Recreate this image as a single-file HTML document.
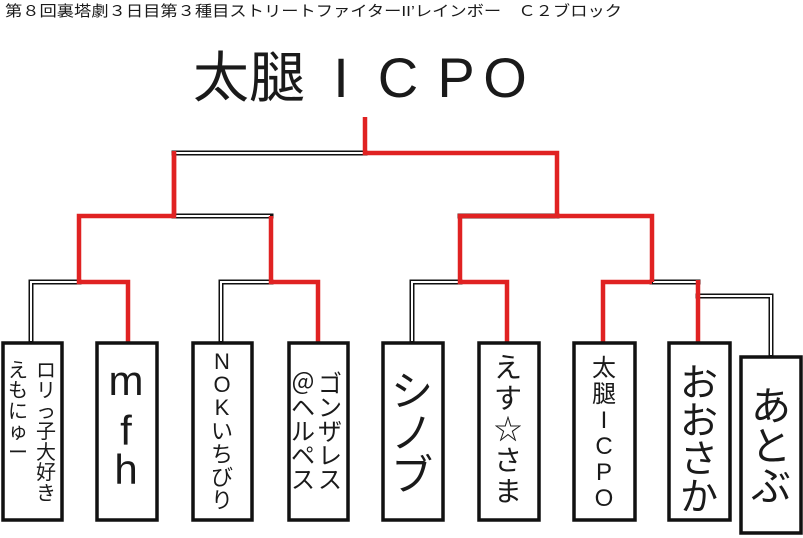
<!DOCTYPE html>
<html><head><meta charset="utf-8"><style>
html,body{margin:0;padding:0;background:#fff;}
svg{display:block}
text{font-family:"Liberation Sans","Noto Sans CJK JP",sans-serif;fill:#1a1a1a}
</style></head><body>
<svg width="803" height="538" viewBox="0 0 803 538" xmlns="http://www.w3.org/2000/svg">
<text x="5" y="16" font-size="15" textLength="617" lengthAdjust="spacingAndGlyphs">第８回裏塔劇３日目第３種目ストリートファイターII’レインボー　Ｃ２ブロック</text>
<text x="193" y="97" font-size="55" textLength="112" lengthAdjust="spacingAndGlyphs">太腿</text>
<g font-size="56" text-anchor="middle">
<text x="341" y="97">I</text><text x="398" y="97">C</text><text x="456" y="97">P</text><text x="505" y="97">O</text>
</g>
<g fill="none" stroke-linecap="square">
<g stroke="#111" stroke-width="5">
<path d="M174 153H365"/>
<path d="M174 216H271"/>
<path d="M460 216H557"/>
<path d="M31 282H79M31 282V342"/>
<path d="M221 282H271M221 282V342"/>
<path d="M412 282H460M412 282V342"/>
<path d="M652 282H698"/>
<path d="M698 296H771V356"/>
</g>
<g stroke="#fff" stroke-width="2">
<path d="M176 153H363"/>
<path d="M176 216H269"/>
<path d="M462 216H555"/>
<path d="M31 282H77M31 282V340"/>
<path d="M221 282H269M221 282V340"/>
<path d="M412 282H458M412 282V340"/>
<path d="M654 282H696"/>
<path d="M700 296H771V354"/>
</g>
<g stroke="#e02222" stroke-width="4.5" stroke-linecap="butt" stroke-linejoin="miter">
<path d="M365 117V153H557V216H652V282"/>
<path d="M174 153V216H79V282H128V342"/>
<path d="M271 216V282H318V342"/>
<path d="M174 151V216"/>
<path d="M557 216H460V282H507V342"/>
<path d="M652 282H603V342"/>
<path d="M698 280V342"/>
</g>
</g>
<g fill="#fff" stroke="#111" stroke-width="3.5">
<rect x="3" y="343" width="59" height="177"/>
<rect x="97" y="343" width="60" height="177"/>
<rect x="193" y="343" width="59" height="177"/>
<rect x="289" y="343" width="59" height="177"/>
<rect x="383" y="343" width="60" height="177"/>
<rect x="479" y="343" width="60" height="177"/>
<rect x="574" y="343" width="61" height="177"/>
<rect x="669" y="343" width="61" height="177"/>
<rect x="741" y="357" width="60" height="176"/>
</g>
<g text-anchor="middle">
<g font-size="20">
<text x="46" y="377">ロ</text><text x="46" y="397">リ</text><text x="46" y="418">っ</text><text x="46" y="438">子</text><text x="46" y="459">大</text><text x="46" y="479">好</text><text x="46" y="500">き</text>
<text x="18" y="377">え</text><text x="18" y="397">も</text><text x="18" y="418">に</text><text x="18" y="438">ゅ</text><text x="18" y="459">ー</text>
</g>
<g font-size="42">
<text x="126" y="395">m</text><text x="126" y="445">f</text><text x="126" y="484">h</text>
</g>
<g font-size="22">
<text x="222" y="369">N</text><text x="222" y="392">O</text><text x="222" y="415">K</text><text x="222" y="439">い</text><text x="222" y="462">ち</text><text x="222" y="485">び</text><text x="222" y="508">り</text>
</g>
<g font-size="24">
<text x="330" y="392">ゴ</text><text x="330" y="416">ン</text><text x="330" y="440">ザ</text><text x="330" y="464">レ</text><text x="330" y="488">ス</text>
<text x="303" y="392">＠</text><text x="303" y="416">ヘ</text><text x="303" y="440">ル</text><text x="303" y="464">ペ</text><text x="303" y="488">ス</text>
</g>
<g font-size="42">
<text x="412" y="406">シ</text><text x="412" y="448">ノ</text><text x="412" y="490">ブ</text>
</g>
<g font-size="28">
<text x="508" y="377">え</text><text x="508" y="408">す</text><text x="508" y="439">☆</text><text x="508" y="470">さ</text><text x="508" y="501">ま</text>
</g>
<g font-size="24">
<text x="604" y="376">太</text><text x="604" y="402">腿</text>
<text x="604" y="428">I</text><text x="604" y="454">C</text><text x="604" y="480">P</text><text x="604" y="506">O</text>
</g>
<g font-size="38">
<text x="699" y="396">お</text><text x="699" y="434">お</text><text x="699" y="472">さ</text><text x="699" y="510">か</text>
</g>
<g font-size="40">
<text x="771" y="420">あ</text><text x="771" y="460">と</text><text x="771" y="500">ぶ</text>
</g>
</g>
</svg>
</body></html>
